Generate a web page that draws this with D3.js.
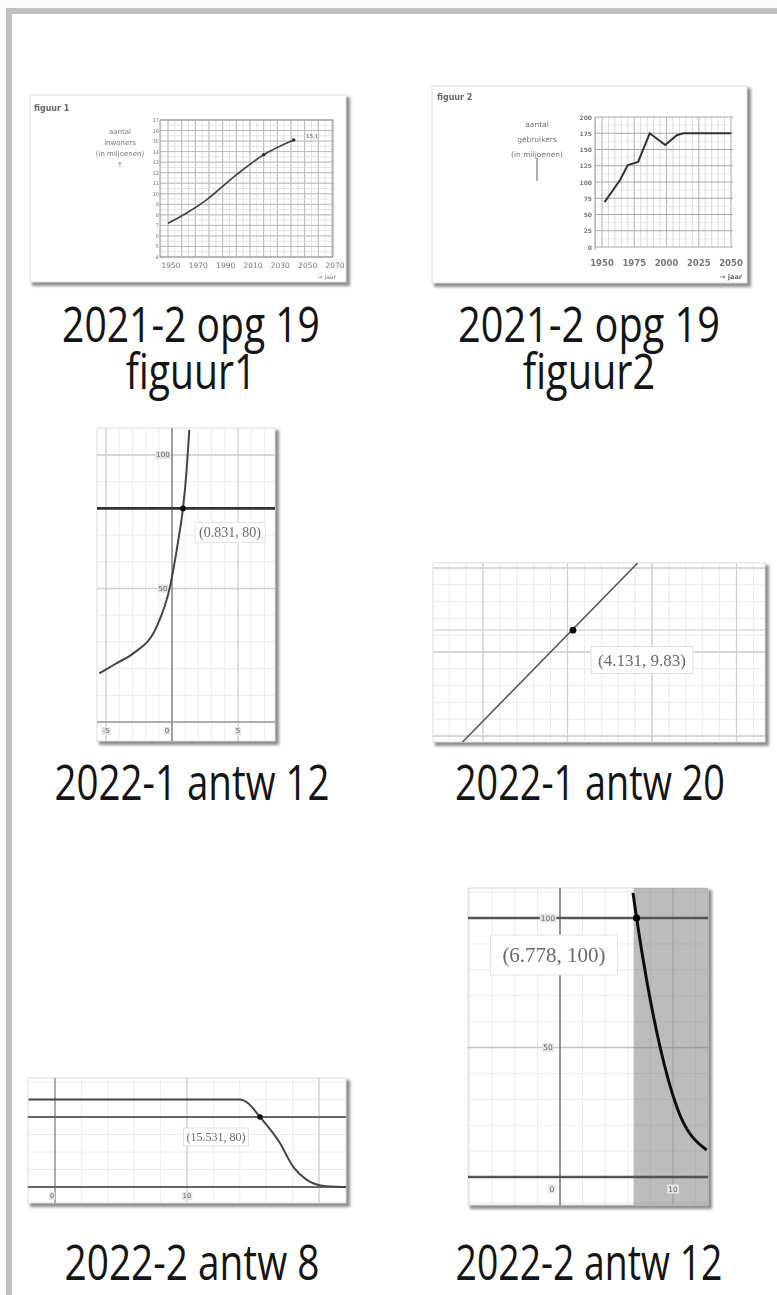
<!DOCTYPE html>
<html><head><meta charset="utf-8">
<script src="https://cdn.jsdelivr.net/npm/d3@7"></script>
<style>
html,body{margin:0;padding:0;background:#fbfbfb;}
svg{display:block;}
</style></head><body>
<svg id="c" width="777" height="1295"></svg>
<script>
// ================= DATA =================
const captions = [
  ["2021-2 opg 19", "figuur1"],
  ["2021-2 opg 19", "figuur2"],
  ["2022-1 antw 12"],
  ["2022-1 antw 20"],
  ["2022-2 antw 8"],
  ["2022-2 antw 12"]
];

// figuur 1 (population)
const fig1Years  = [1950, 1964, 1978, 2000, 2020, 2042];
const fig1Values = [7.2, 8.2, 9.4, 11.8, 13.7, 15.1];
const fig1XTicks = [1950, 1970, 1990, 2010, 2030, 2050, 2070];
const fig1YTicks = [4, 5, 6, 7, 8, 9, 10, 11, 12, 13, 14, 15, 16, 17];
const fig1YLabel = ["aantal", "inwoners", "(in miljoenen)", "\u2191"];

// figuur 2
const fig2Years  = [1952, 1964, 1970, 1978, 1987, 1999, 2008, 2013, 2050];
const fig2Values = [69, 103, 126, 131, 175, 157, 172, 175, 175];
const fig2XTicks = [1950, 1975, 2000, 2025, 2050];
const fig2YTicks = [0, 25, 50, 75, 100, 125, 150, 175, 200];
const fig2YLabel = ["aantal", "gebruikers", "(in miljoenen)"];

// 2022-1 antw 12
const a12X = [-5.5, -4.2, -2.93, -1.16, -0.15, 0.48, 0.831, 1.11, 1.31];
const a12Y = [18.2, 22, 25.7, 35.7, 50.7, 68.2, 80, 94.4, 109.4];
const a12Level = 80;
const a12Point = [0.831, 80];
const a12XTicks = [-5, 0, 5];
const a12YTicks = [50, 100];

// 2022-1 antw 20
const a20X = [2.75, 4.83];
const a20Y = [8.92, 11.06];
const a20Point = [4.065, 10.26];
const a20Label = "(4.131, 9.83)";

// 2022-2 antw 8
const b8X = [-2, 14.0, 14.6, 15.531, 17.05, 18.05, 19.0, 19.6, 20.5, 22.5];
const b8Y = [100, 100, 96, 80, 50, 23, 9, 4, 1, 0];
const b8Level = 80;
const b8Point = [15.531, 80];
const b8XTicks = [0, 10];

// 2022-2 antw 12
const b12X = [6.46, 6.778, 7.67, 8.85, 10.33, 12.98];
const b12Y = [109.7, 100, 76, 50.3, 27.1, 10.4];
const b12Level = 100;
const b12Point = [6.778, 100];
const b12XTicks = [0, 10];
const b12YTicks = [50, 100];

// ================= DRAWING =================
const W = 777, H = 1295;
const svg = d3.select("#c");
const defs = svg.append("defs");
defs.append("filter").attr("id", "soft").attr("x", "-5%").attr("y", "-5%").attr("width", "110%").attr("height", "110%")
  .append("feGaussianBlur").attr("stdDeviation", 0.45);
defs.append("filter").attr("id", "shadow").attr("x", "-10%").attr("y", "-10%").attr("width", "130%").attr("height", "130%")
  .append("feGaussianBlur").attr("stdDeviation", 1.6);

svg.append("rect").attr("width", W).attr("height", H).attr("fill", "#fbfbfb");
svg.append("rect").attr("x", 9).attr("y", 11).attr("width", W + 20).attr("height", H + 20)
  .attr("fill", "#fff").attr("stroke", "#c2c2c2").attr("stroke-width", 6);

let clipN = 0;
function thumb(box) {
  svg.append("rect").attr("x", box.x + 2).attr("y", box.y + 2).attr("width", box.w + 2).attr("height", box.h + 2)
    .attr("fill", "#8c8c8c").attr("filter", "url(#shadow)");
  svg.append("rect").attr("x", box.x).attr("y", box.y).attr("width", box.w).attr("height", box.h)
    .attr("fill", "#fff").attr("stroke", "#dedede");
  const id = "clip" + (clipN++);
  defs.append("clipPath").attr("id", id).append("rect")
    .attr("x", box.x).attr("y", box.y).attr("width", box.w).attr("height", box.h);
  return svg.append("g").attr("clip-path", `url(#${id})`).append("g").attr("filter", "url(#soft)");
}
function vlines(g, vals, x, y0, y1, color, w) {
  g.append("g").selectAll("line").data(vals).join("line")
    .attr("x1", d => x(d)).attr("x2", d => x(d)).attr("y1", y0).attr("y2", y1)
    .attr("stroke", color).attr("stroke-width", w);
}
function hlines(g, vals, y, x0, x1, color, w) {
  g.append("g").selectAll("line").data(vals).join("line")
    .attr("y1", d => y(d)).attr("y2", d => y(d)).attr("x1", x0).attr("x2", x1)
    .attr("stroke", color).attr("stroke-width", w);
}
function labelBox(g, cx, cy, text, size, padX, padY) {
  const t = g.append("text").attr("x", cx).attr("y", cy).attr("text-anchor", "middle")
    .attr("dominant-baseline", "central").attr("font-family", "Liberation Serif, DejaVu Serif, serif")
    .attr("font-size", size).attr("fill", "#6a6a6a").text(text);
  const b = t.node().getBBox();
  g.insert("rect", () => t.node()).attr("x", b.x - padX).attr("y", b.y - padY)
    .attr("width", b.width + 2 * padX).attr("height", b.height + 2 * padY)
    .attr("fill", "#fff").attr("stroke", "#e2e2e2").attr("stroke-width", 1);
}
function tickLabel(g, x, y, text, size, anchor) {
  const t = g.append("text").attr("x", x).attr("y", y).attr("text-anchor", anchor || "middle")
    .attr("dominant-baseline", "central").attr("font-family", "DejaVu Sans, sans-serif")
    .attr("font-size", size).attr("fill", "#666").text(text);
  const b = t.node().getBBox();
  g.insert("rect", () => t.node()).attr("x", b.x - 1).attr("y", b.y).attr("width", b.width + 2).attr("height", b.height)
    .attr("fill", "#e4e4e4");
}

// ---------- Thumb 1 : figuur 1 ----------
{
  const g = thumb({x: 30, y: 95, w: 316, h: 187});
  const x = d3.scaleLinear().domain([1950, 2070]).range([168, 332]);
  const y = d3.scaleLinear().domain([4, 17]).range([257, 120]);
  const X0 = 160, X1 = 333, Y0 = 120, Y1 = 257;
  vlines(g, d3.range(1945, 2071, 5), x, Y0, Y1, "#d9d9d9", 0.7);
  vlines(g, d3.range(1950, 2071, 10), x, Y0, Y1, "#b5b5b5", 0.9);
  hlines(g, d3.range(4, 17.01, 0.5), y, X0, X1, "#d9d9d9", 0.7);
  hlines(g, fig1YTicks, y, X0, X1, "#b8b8b8", 0.9);
  g.append("rect").attr("x", X0).attr("y", Y0).attr("width", X1 - X0).attr("height", Y1 - Y0)
    .attr("fill", "none").attr("stroke", "#9a9a9a").attr("stroke-width", 1);
  g.append("path").datum(fig1Years.map((d, i) => [d, fig1Values[i]]))
    .attr("d", d3.line().x(d => x(d[0])).y(d => y(d[1])).curve(d3.curveMonotoneX))
    .attr("fill", "none").attr("stroke", "#444").attr("stroke-width", 1.7);
  g.selectAll(".dot").data([4, 5]).join("circle").attr("cx", i => x(fig1Years[i])).attr("cy", i => y(fig1Values[i]))
    .attr("r", 1.8).attr("fill", "#333");
  g.append("text").attr("x", 306).attr("y", 138).attr("font-family", "DejaVu Sans").attr("font-size", 5.5)
    .attr("fill", "#666").text("15,1");
  g.selectAll(".yl").data(fig1YTicks).join("text").attr("x", 159).attr("y", d => y(d))
    .attr("text-anchor", "end").attr("dominant-baseline", "central").attr("font-family", "DejaVu Sans")
    .attr("font-size", 5).attr("fill", "#777").text(d => d);
  g.selectAll(".xl").data(fig1XTicks).join("text").attr("x", d => x(d) + 3).attr("y", 265)
    .attr("text-anchor", "middle").attr("dominant-baseline", "central").attr("font-family", "DejaVu Sans")
    .attr("font-size", 7.5).attr("fill", "#777").text(d => d);
  g.append("text").attr("x", 336).attr("y", 279).attr("text-anchor", "end").attr("font-family", "DejaVu Sans")
    .attr("font-size", 6).attr("fill", "#777").text("\u2192 jaar");
  g.selectAll(".ylab").data(fig1YLabel).join("text").attr("x", 120).attr("y", (d, i) => 132 + i * 11)
    .attr("text-anchor", "middle").attr("dominant-baseline", "central").attr("font-family", "DejaVu Sans")
    .attr("font-size", 7).attr("fill", "#777").text(d => d);
  g.append("text").attr("x", 34).attr("y", 111).attr("font-family", "DejaVu Sans").attr("font-weight", "bold")
    .attr("font-size", 8).attr("fill", "#666").text("figuur 1");
}

// ---------- Thumb 2 : figuur 2 ----------
{
  const g = thumb({x: 432, y: 86, w: 315, h: 197});
  const x = d3.scaleLinear().domain([1950, 2050]).range([602, 731]);
  const y = d3.scaleLinear().domain([0, 200]).range([247, 117]);
  const X0 = 595, X1 = 733;
  vlines(g, d3.range(1945, 2051, 5), x, 117, 247, "#d0d0d0", 0.8);
  vlines(g, fig2XTicks, x, 117, 247, "#b5b5b5", 0.9);
  hlines(g, d3.range(12.5, 200, 25), y, X0, X1, "#dedede", 0.7);
  hlines(g, fig2YTicks, y, X0, X1, "#a8a8a8", 1);
  g.append("line").attr("x1", X0).attr("x2", X0).attr("y1", 117).attr("y2", 250).attr("stroke", "#999");
  g.append("path").datum(fig2Years.map((d, i) => [d, fig2Values[i]]))
    .attr("d", d3.line().x(d => x(d[0])).y(d => y(d[1])))
    .attr("fill", "none").attr("stroke", "#333").attr("stroke-width", 2);
  g.selectAll(".yl").data(fig2YTicks).join("text").attr("x", 592).attr("y", d => y(d))
    .attr("text-anchor", "end").attr("dominant-baseline", "central").attr("font-family", "DejaVu Sans")
    .attr("font-size", 6).attr("font-weight", "bold").attr("fill", "#777").text(d => d);
  g.selectAll(".xl").data(fig2XTicks).join("text").attr("x", d => x(d)).attr("y", 263)
    .attr("text-anchor", "middle").attr("dominant-baseline", "central").attr("font-family", "DejaVu Sans")
    .attr("font-size", 8.5).attr("font-weight", "bold").attr("fill", "#777").text(d => d);
  g.append("text").attr("x", 742).attr("y", 279).attr("text-anchor", "end").attr("font-family", "DejaVu Sans")
    .attr("font-size", 6.5).attr("font-weight", "bold").attr("fill", "#666").text("\u2192 jaar");
  g.selectAll(".ylab").data(fig2YLabel).join("text").attr("x", 537).attr("y", (d, i) => 124 + i * 15)
    .attr("text-anchor", "middle").attr("dominant-baseline", "central").attr("font-family", "DejaVu Sans")
    .attr("font-size", 7.5).attr("fill", "#777").text(d => d);
  g.append("line").attr("x1", 537).attr("x2", 537).attr("y1", 158).attr("y2", 181).attr("stroke", "#777").attr("stroke-width", 1.2);
  g.append("text").attr("x", 437).attr("y", 100).attr("font-family", "DejaVu Sans").attr("font-weight", "bold")
    .attr("font-size", 8).attr("fill", "#666").text("figuur 2");
}

// ---------- Thumb 3 : 2022-1 antw 12 ----------
{
  const box = {x: 97, y: 428, w: 178, h: 313};
  const g = thumb(box);
  const x = d3.scaleLinear().domain([0, 5]).range([172, 238]);
  const y = d3.scaleLinear().domain([0, 100]).range([722, 455]);
  const L = box.x, R = box.x + box.w, T = box.y, B = box.y + box.h;
  vlines(g, d3.range(-6, 9, 1), x, T, B, "#ececec", 1);
  hlines(g, d3.range(-10, 121, 10), y, L, R, "#ececec", 1);
  vlines(g, [-5, 5], x, T, B, "#d2d2d2", 1.2);
  hlines(g, [50, 100], y, L, R, "#cfcfcf", 1.4);
  vlines(g, [0], x, T, B, "#8a8a8a", 1.6);
  hlines(g, [0], y, L, R, "#9a9a9a", 1.6);
  hlines(g, [a12Level], y, L, R, "#333", 2.6);
  a12YTicks.forEach(v => tickLabel(g, x(0) - 9, y(v), v, 7, "middle"));
  a12XTicks.forEach(v => tickLabel(g, x(v) - (v === 0 ? 5 : 0), y(0) + 9, v, 7, "middle"));
  g.append("path").datum(a12X.map((d, i) => [d, a12Y[i]]))
    .attr("d", d3.line().x(d => x(d[0])).y(d => y(d[1])).curve(d3.curveMonotoneX))
    .attr("fill", "none").attr("stroke", "#444").attr("stroke-width", 2);
  g.append("circle").attr("cx", x(a12Point[0])).attr("cy", y(a12Point[1])).attr("r", 3).attr("fill", "#111");
  labelBox(g, 230, 532, `(${a12Point[0]}, ${a12Point[1]})`, 14, 4, 2);
}

// ---------- Thumb 4 : 2022-1 antw 20 ----------
{
  const box = {x: 433, y: 563, w: 332, h: 179};
  const g = thumb(box);
  const x = d3.scaleLinear().domain([3, 5]).range([483, 652]);
  const y = d3.scaleLinear().domain([10, 11]).range([652, 568]);
  const L = box.x, R = box.x + box.w, T = box.y, B = box.y + box.h;
  vlines(g, d3.range(2.4, 6.5, 0.2), x, T, B, "#e9e9e9", 1);
  hlines(g, d3.range(8.8, 11.3, 0.2), y, L, R, "#e9e9e9", 1);
  vlines(g, [3, 4, 5, 6], x, T, B, "#cfcfcf", 1.3);
  hlines(g, [9, 10, 11], y, L, R, "#cfcfcf", 1.3);
  hlines(g, [a20Point[1]], y, L, R, "#d6d6d6", 1.2);
  g.append("path").datum(a20X.map((d, i) => [d, a20Y[i]]))
    .attr("d", d3.line().x(d => x(d[0])).y(d => y(d[1])))
    .attr("fill", "none").attr("stroke", "#555").attr("stroke-width", 1.6);
  g.append("circle").attr("cx", x(a20Point[0])).attr("cy", y(a20Point[1])).attr("r", 3.4).attr("fill", "#111");
  labelBox(g, 642, 660, a20Label, 17, 7, 4);
}

// ---------- Thumb 5 : 2022-2 antw 8 ----------
{
  const box = {x: 28, y: 1078, w: 318, h: 125};
  const g = thumb(box);
  const x = d3.scaleLinear().domain([0, 10]).range([55, 187]);
  const y = d3.scaleLinear().domain([0, 100]).range([1187, 1099.5]);
  const L = box.x, R = box.x + box.w, T = box.y, B = box.y + box.h;
  vlines(g, d3.range(-4, 25, 2), x, T, B, "#ececec", 1);
  hlines(g, d3.range(-20, 141, 20), y, L, R, "#ececec", 1);
  vlines(g, [10, 20], x, T, B, "#d0d0d0", 1.3);
  vlines(g, [0], x, T, B, "#9a9a9a", 1.6);
  hlines(g, [0], y, L, R, "#666", 1.8);
  hlines(g, [b8Level], y, L, R, "#666", 1.8);
  b8XTicks.forEach(v => tickLabel(g, x(v) - (v === 0 ? 3 : 0), y(0) + 9, v, 6.5, "middle"));
  g.append("path").datum(b8X.map((d, i) => [d, b8Y[i]]))
    .attr("d", d3.line().x(d => x(d[0])).y(d => y(d[1])).curve(d3.curveMonotoneX))
    .attr("fill", "none").attr("stroke", "#444").attr("stroke-width", 2);
  g.append("circle").attr("cx", x(b8Point[0])).attr("cy", y(b8Point[1])).attr("r", 2.8).attr("fill", "#111");
  labelBox(g, 216, 1137, `(${b8Point[0]}, ${b8Point[1]})`, 12, 3, 2);
}

// ---------- Thumb 6 : 2022-2 antw 12 ----------
{
  const box = {x: 468, y: 888, w: 240, h: 317};
  const g = thumb(box);
  const x = d3.scaleLinear().domain([0, 10]).range([560, 673]);
  const y = d3.scaleLinear().domain([0, 100]).range([1177, 918]);
  const L = box.x, R = box.x + box.w, T = box.y, B = box.y + box.h;
  vlines(g, d3.range(-10, 16, 2), x, T, B, "#ebebeb", 1);
  hlines(g, d3.range(-10, 121, 10), y, L, R, "#ebebeb", 1);
  vlines(g, [-10, 10], x, T, B, "#d0d0d0", 1.3);
  hlines(g, [50], y, L, R, "#c4c4c4", 1.5);
  g.append("rect").attr("x", x(b12Point[0]) - 3).attr("y", T).attr("width", R - x(b12Point[0]) + 3).attr("height", B - T)
    .attr("fill", "#7a7a7a").attr("opacity", 0.5);
  vlines(g, [0], x, T, B, "#8a8a8a", 1.8);
  hlines(g, [0], y, L, R, "#555", 2.4);
  hlines(g, [b12Level], y, L, R, "#555", 2.4);
  b12YTicks.forEach(v => tickLabel(g, x(0) - 12, y(v), v, 7.5, "middle"));
  b12XTicks.forEach(v => tickLabel(g, x(v) - (v === 0 ? 8 : 0), y(0) + 12, v, 7.5, "middle"));
  g.append("path").datum(b12X.map((d, i) => [d, b12Y[i]]))
    .attr("d", d3.line().x(d => x(d[0])).y(d => y(d[1])).curve(d3.curveMonotoneX))
    .attr("fill", "none").attr("stroke", "#111").attr("stroke-width", 3);
  g.append("circle").attr("cx", x(b12Point[0])).attr("cy", y(b12Point[1])).attr("r", 3.6).attr("fill", "#000");
  labelBox(g, 554, 955, `(${b12Point[0]}, ${b12Point[1]})`, 21, 12, 8);
}

// ---------- Captions (one text per caption, horizontally condensed like the reference font) ----------
const capLayout = [
  {cx: 191, y: 342, w: 258},
  {cx: 589, y: 342, w: 262},
  {cx: 192, y: 800, w: 275},
  {cx: 590, y: 800, w: 270},
  {cx: 192, y: 1280, w: 255},
  {cx: 589, y: 1280, w: 267}
];
const capLineGap = 47;
captions.forEach((lines, i) => {
  const gT = svg.append("g");
  const t = gT.append("text").attr("text-anchor", "middle")
    .attr("font-family", "Open Sans, Noto Sans, sans-serif")
    .attr("font-size", 49).attr("fill", "#151515");
  const spans = t.selectAll("tspan").data(lines).join("tspan")
    .attr("x", 0).attr("y", (d, j) => j * capLineGap).text(d => d);
  const natural = spans.nodes()[0].getComputedTextLength();
  const sx = capLayout[i].w / natural;
  gT.attr("transform", `translate(${capLayout[i].cx},${capLayout[i].y}) scale(${sx},1)`);
});
</script>
</body></html>
